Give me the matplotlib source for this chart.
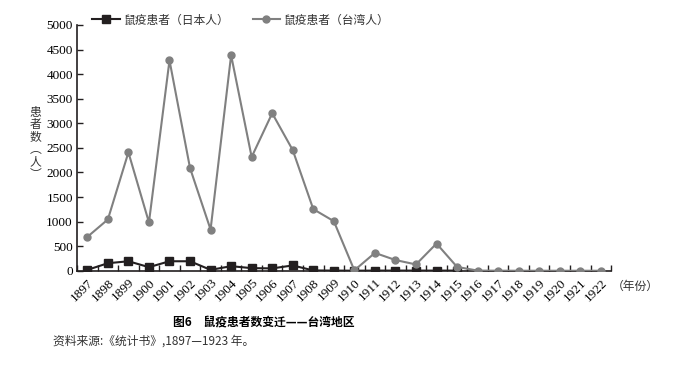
import numpy as np
import matplotlib
matplotlib.use("Agg")
import matplotlib.pyplot as plt

plt.rcParams['font.family'] = 'serif'
plt.rcParams['font.serif'] = ['Liberation Serif']
cjk = ['Noto Sans CJK SC', 'DejaVu Sans']

# data
years = [str(y) for y in range(1897, 1923)]
japanese = [20, 155, 195, 75, 195, 195, 20, 95, 55, 50, 110, 8, 5, 3, 5, 5, 5, 5, 5]
taiwanese = [690, 1045, 2410, 985, 4280, 2090, 840, 4385, 2315, 3205, 2455, 1255, 1010,
             10, 365, 220, 130, 555, 80, 5, 3, 2, 2, 2, 2, 2]

black = '#231f20'
grey = '#808080'

fig = plt.figure(figsize=(6.76, 3.67), dpi=100)
ax = fig.add_axes([0.114, 0.262, 0.790, 0.670])

x_jp = np.arange(len(japanese))
x_tw = np.arange(len(taiwanese))
ax.plot(x_jp, japanese, color=black, lw=1.5, marker='s', ms=5.5, zorder=3,
        label='鼠疫患者（日本人）')
ax.plot(x_tw, taiwanese, color=grey, lw=1.5, marker='o', ms=5, zorder=4,
        label='鼠疫患者（台湾人）')

ax.set_xlim(-0.5, len(years) - 0.5)
ax.set_ylim(0, 5000)
ax.set_yticks(range(0, 5001, 500))
ax.set_yticklabels([str(v) for v in range(0, 5001, 500)], fontsize=9.5)
ax.tick_params(axis='y', direction='in', length=4, width=1, pad=3, color=black)
ax.set_xticks(np.arange(len(years)))
ax.set_xticklabels(years, rotation=45, ha='right', va='top', rotation_mode='anchor', fontsize=9.5)
ax.tick_params(axis='x', which='major', length=0, pad=4)
ax.set_xticks(np.arange(len(years) + 1) - 0.5, minor=True)
ax.tick_params(axis='x', which='minor', direction='in', length=4, width=1, color=black)

for s in ['top', 'right']:
    ax.spines[s].set_visible(False)
for s in ['left', 'bottom']:
    ax.spines[s].set_linewidth(1.2)
    ax.spines[s].set_color(black)

leg = ax.legend(loc='lower left', bbox_to_anchor=(0.02, 0.975), ncol=2, frameon=False,
                prop={'family': cjk, 'size': 8.5}, handlelength=2.3, handletextpad=0.3,
                columnspacing=2.0, borderaxespad=0)
for t in leg.get_texts():
    t.set_color('#333333')

# vertical y label
fig.text(0.053, 0.712, '患\n者\n数\n︵\n人\n︶', family=cjk, fontsize=8.5, ha='center', va='top',
         linespacing=0.95, color='#333333')
fig.text(0.905, 0.22, '（年份）', family=cjk, fontsize=8.5, ha='left', va='center', color='#333333')

fig.text(0.39, 0.122, '图6　鼠疫患者数变迁——台湾地区', family=cjk, fontsize=8.5,
         fontweight='bold', ha='center', va='center')
fig.text(0.078, 0.07, '资料来源:《统计书》,1897—1923 年。', family=cjk, fontsize=8.5,
         ha='left', va='center', color='#333333')

fig.savefig('out.png', dpi=100)
